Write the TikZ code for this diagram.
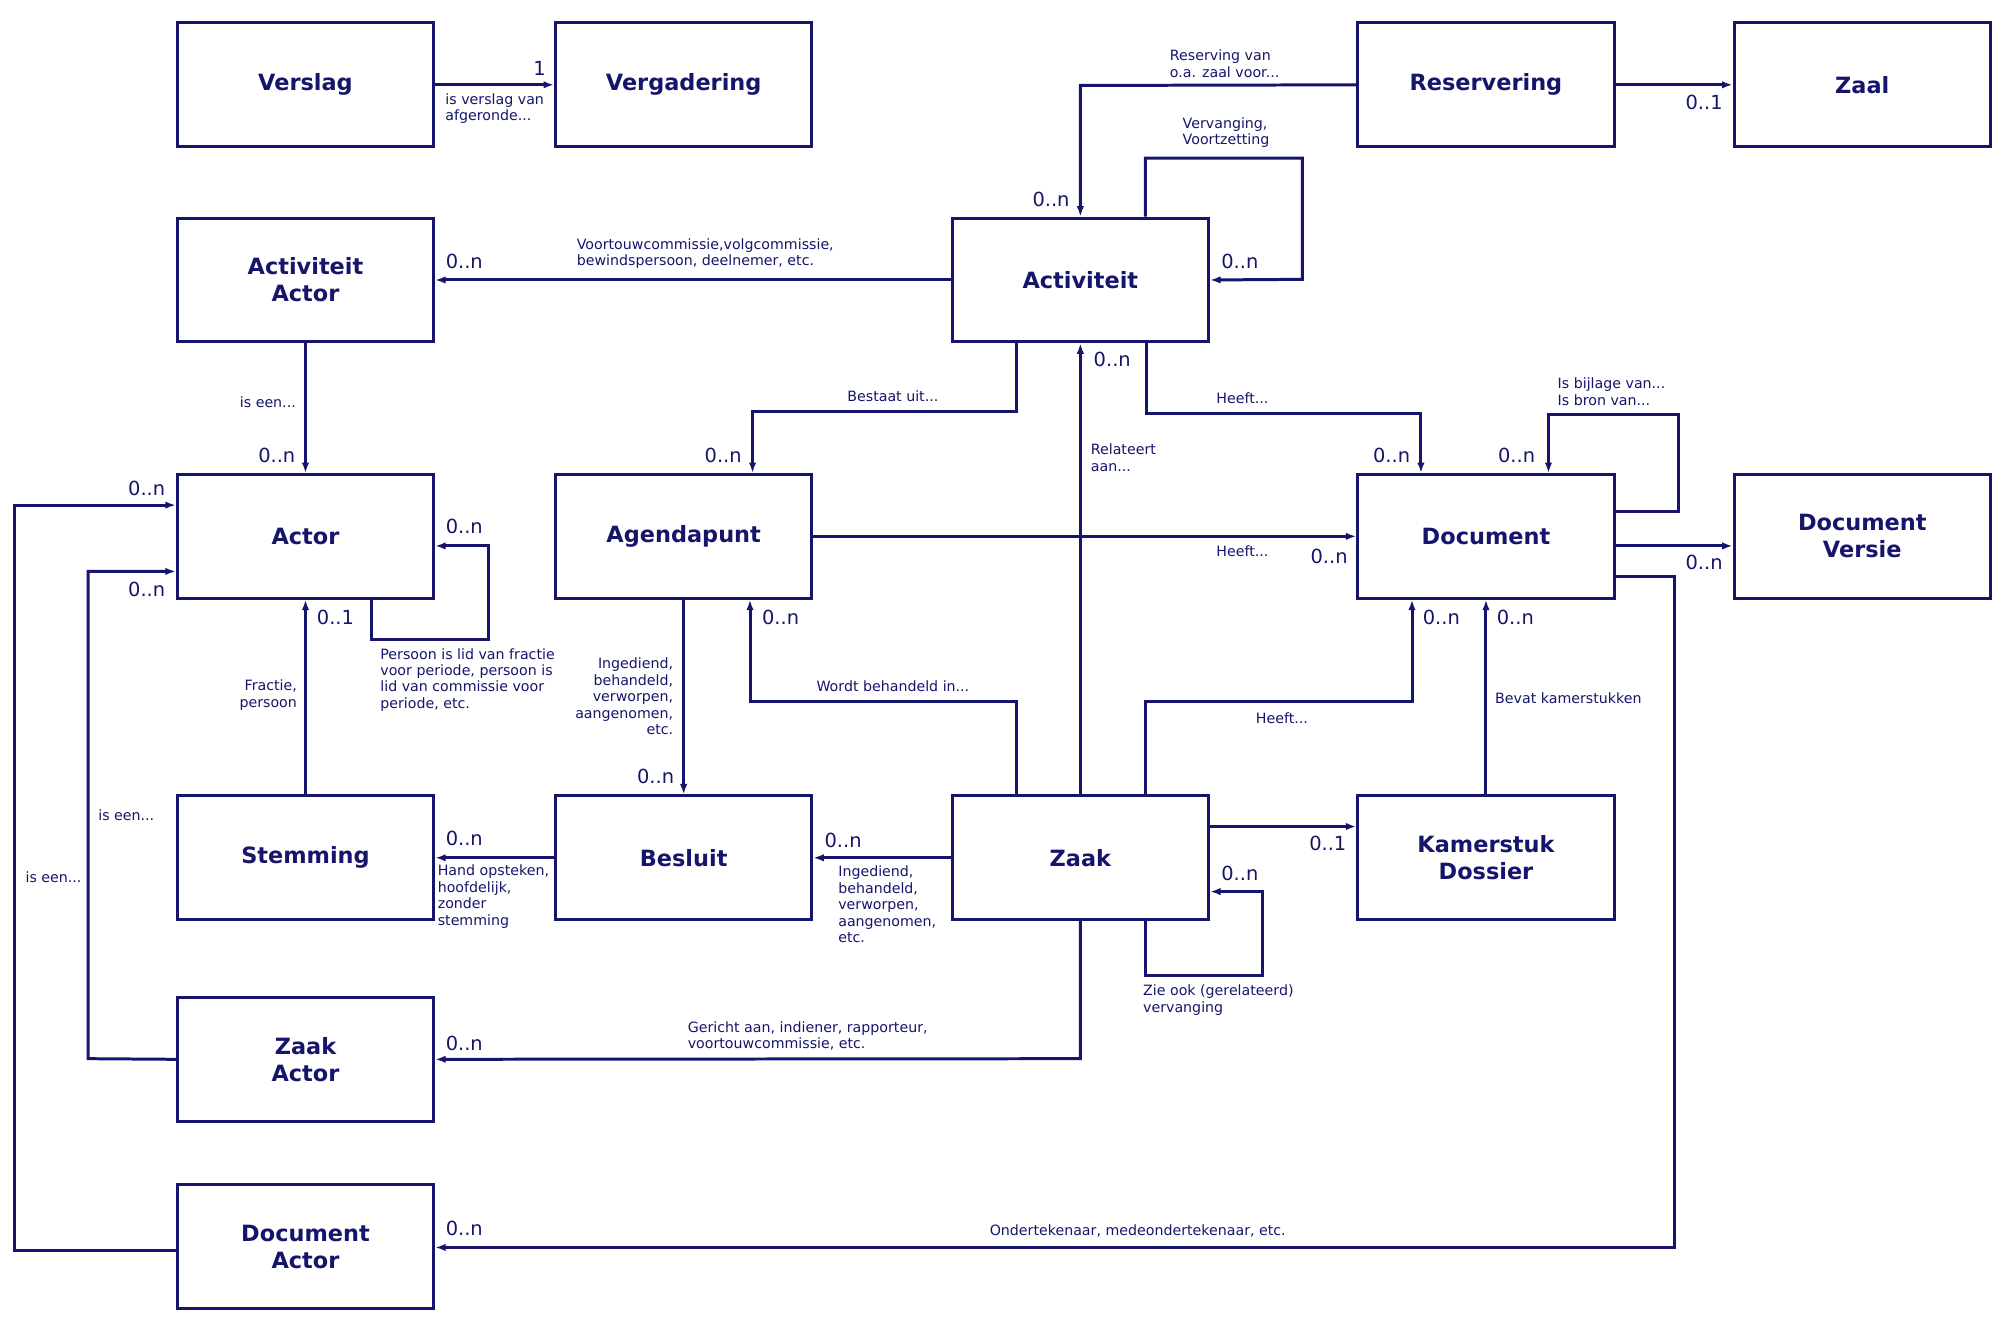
\documentclass[tikz,border=0pt]{standalone}
\usepackage{fontspec}
\setmainfont{DejaVu Sans}
\usetikzlibrary{arrows.meta}
\definecolor{nv}{HTML}{15156B}
\begin{document}
\begin{tikzpicture}[x=0.03cm,y=-0.03cm,
  box/.style={draw=nv,line width=2pt,minimum width=6.03cm,minimum height=2.91cm,inner sep=0pt,align=center,text=nv,font=\fontsize{15}{18}\selectfont\bfseries},
  con/.style={draw=nv,line width=2pt,-{Latex[length=7pt,width=5pt]}},
  lbl/.style={text=nv,font=\fontsize{9.5}{11}\selectfont,inner sep=0pt,align=left,anchor=west},
  lblr/.style={text=nv,font=\fontsize{9.5}{11}\selectfont,inner sep=0pt,align=right,anchor=east},
  card/.style={text=nv,font=\fontsize{13}{15}\selectfont,inner sep=0pt}]
\useasboundingbox (0,0) rectangle (1568,1041);
\node[box] (verslag) at (239.5,66.5) {Verslag};
\node[box] (vergadering) at (536,66.5) {Vergadering};
\node[box] (reservering) at (1165,66.5) {Reservering};
\node[box] (zaal) at (1460,66.5) {Zaal};
\node[box] (aa) at (239.5,219.5) {Activiteit\\Actor};
\node[box] (activiteit) at (847,219.5) {Activiteit};
\node[box] (actor) at (239.5,420.5) {Actor};
\node[box] (agendapunt) at (536,420.5) {Agendapunt};
\node[box] (document) at (1165,420.5) {Document};
\node[box] (dv) at (1460,420.5) {Document\\Versie};
\node[box] (stemming) at (239.5,672.5) {Stemming};
\node[box] (besluit) at (536,672.5) {Besluit};
\node[box] (zaak) at (847,672.5) {Zaak};
\node[box] (ks) at (1165,672.5) {Kamerstuk\\Dossier};
\node[box] (za) at (239.5,830.5) {Zaak\\Actor};
\node[box] (da) at (239.5,977.5) {Document\\Actor};

% 1
\draw[con] (verslag.east) -- (vergadering.west);
\node[card] at (423,54) {1};
\node[lbl] at (349,85) {is verslag van\\afgeronde...};
% 2
\draw[con] (reservering.east) -- (zaal.west);
\node[card] at (1336,80) {0..1};
% 3
\draw[con] (reservering.west) -- (847,67) -- (activiteit.north);
\node[lbl] at (917,50) {Reserving van\\o.a. zaal voor...};
\node[card] at (824,156) {0..n};
% 4
\draw[con] (activiteit.north -| 898,0) -- (898,124) -- (1021,124) -- (1021,219) -- (activiteit.east);
\node[lbl] at (927,104) {Vervanging,\\Voortzetting};
\node[card] at (972,205) {0..n};
% 5
\draw[con] (activiteit.west) -- (aa.east);
\node[lbl] at (452,199) {Voortouwcommissie,volgcommissie,\\bewindspersoon, deelnemer, etc.};
\node[card] at (364,205) {0..n};
% 6
\draw[con] (aa.south) -- (actor.north);
\node[card] at (217,357) {0..n};
\node[text=nv,font=\fontsize{9.5}{11}\selectfont] at (210,315) {is een...};
% 7
\draw[con] (activiteit.south -| 797,0) -- (797,323) -- (590,323) -- (agendapunt.north -| 590,0);
\node[text=nv,font=\fontsize{9.5}{11}\selectfont] at (700,311) {Bestaat uit...};
\node[card] at (567,357) {0..n};
% 8
\draw[con] (activiteit.south -| 899,0) -- (899,324) -- (1114,324) -- (document.north -| 1114,0);
\node[text=nv,font=\fontsize{9.5}{11}\selectfont] at (974,312) {Heeft...};
\node[card] at (1091,357) {0..n};
% 9
\draw[con] (document.east |- 0,401) -- (1316,401) -- (1316,325) -- (1214,325) -- (document.north -| 1214,0);
\node[lbl] at (1221,307) {Is bijlage van...\\Is bron van...};
\node[card] at (1189,357) {0..n};
% 10
\draw[con] (zaak.north) -- (activiteit.south);
\node[card] at (872,282) {0..n};
\node[lbl] at (855,359) {Relateert\\aan...};
% 11
\draw[con] (agendapunt.east) -- (document.west);
\node[text=nv,font=\fontsize{9.5}{11}\selectfont] at (974,432) {Heeft...};
\node[card] at (1042,436) {0..n};
% 12
\draw[con] (document.east |- 0,428) -- (dv.west |- 0,428);
\node[card] at (1336,441) {0..n};
% 13
\draw[con] (document.east |- 0,452) -- (1313,452) -- (1313,978) -- (da.east |- 0,978);
\node[text=nv,font=\fontsize{9.5}{11}\selectfont] at (892,965) {Ondertekenaar, medeondertekenaar, etc.};
\node[card] at (364,963) {0..n};
% 14
\draw[con] (actor.south -| 291,0) -- (291,501) -- (383,501) -- (383,428) -- (actor.east |- 0,428);
\node[card] at (364,413) {0..n};
\node[lbl] at (298,533) {Persoon is lid van fractie\\voor periode, persoon is\\lid van commissie voor\\periode, etc.};
% 15
\draw[con] (stemming.north) -- (actor.south);
\node[card] at (263,484) {0..1};
\node[lblr] at (233,545) {Fractie,\\persoon};
% 16
\draw[con] (agendapunt.south) -- (besluit.north);
\node[lblr] at (528,546) {Ingediend,\\behandeld,\\verworpen,\\aangenomen,\\etc.};
\node[card] at (514,609) {0..n};
% 17
\draw[con] (zaak.north -| 797,0) -- (797,550) -- (588,550) -- (agendapunt.south -| 588,0);
\node[text=nv,font=\fontsize{9.5}{11}\selectfont] at (700,538) {Wordt behandeld in...};
\node[card] at (612,484) {0..n};
% 18
\draw[con] (zaak.north -| 898,0) -- (898,550) -- (1107,550) -- (document.south -| 1107,0);
\node[text=nv,font=\fontsize{9.5}{11}\selectfont] at (1005,563) {Heeft...};
\node[card] at (1130,484) {0..n};
% 19
\draw[con] (ks.north) -- (document.south);
\node[lbl] at (1172,547) {Bevat kamerstukken};
\node[card] at (1188,484) {0..n};
% 20
\draw[con] (zaak.east |- 0,648) -- (ks.west |- 0,648);
\node[card] at (1041,661) {0..1};
% 21
\draw[con] (zaak.south -| 898,0) -- (898,765) -- (990,765) -- (990,699) -- (zaak.east |- 0,699);
\node[card] at (972,685) {0..n};
\node[lbl] at (896,784) {Zie ook (gerelateerd)\\vervanging};
% 22
\draw[con] (zaak.west) -- (besluit.east);
\node[card] at (661,659) {0..n};
\node[lbl] at (657,709) {Ingediend,\\behandeld,\\verworpen,\\aangenomen,\\etc.};
% 23
\draw[con] (besluit.west) -- (stemming.east);
\node[card] at (364,657) {0..n};
\node[lbl] at (343,703) {Hand opsteken,\\hoofdelijk,\\zonder\\stemming};
% 24
\draw[con] (zaak.south) -- (847,830) -- (za.east);
\node[lbl] at (539,812) {Gericht aan, indiener, rapporteur,\\voortouwcommissie, etc.};
\node[card] at (364,818) {0..n};
% 25
\draw[con] (za.west) -- (69,830) -- (69,448) -- (actor.west |- 0,448);
\node[text=nv,font=\fontsize{9.5}{11}\selectfont] at (99,639) {is een...};
\node[card] at (115,462) {0..n};
% 26
\draw[con] (da.west |- 0,980) -- (11,980) -- (11,396) -- (actor.west |- 0,396);
\node[text=nv,font=\fontsize{9.5}{11}\selectfont] at (42,688) {is een...};
\node[card] at (115,383) {0..n};
\end{tikzpicture}
\end{document}
